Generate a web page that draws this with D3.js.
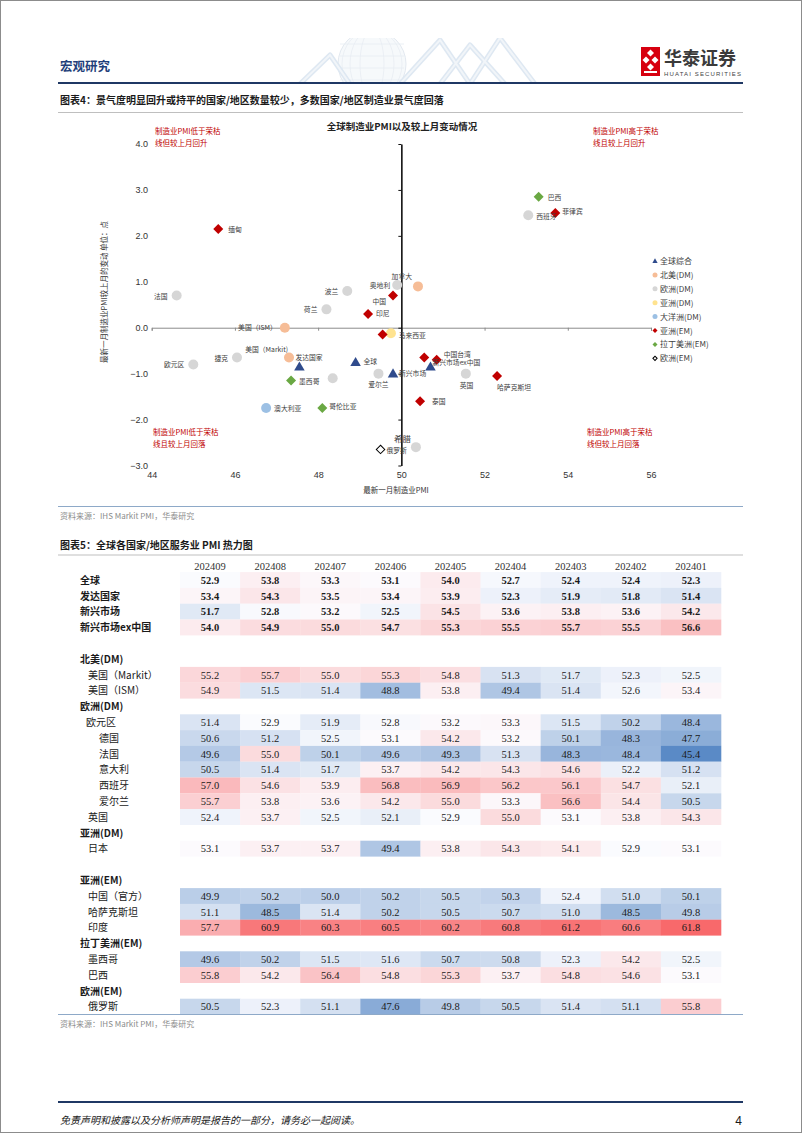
<!DOCTYPE html>
<html><head><meta charset="utf-8">
<script src="https://cdn.jsdelivr.net/npm/d3@7"></script>
<style>body{margin:0;background:#fff}svg{display:block}</style>
</head><body>
<svg id="page" width="802" height="1133"></svg>
<script>
// ===================== DATA =====================
// Scatter: global manufacturing PMI (latest month) and change vs previous month
const pointNames  = ["缅甸","法国","波兰","荷兰","中国","奥地利","加拿大","印尼","美国（ISM）","马来西亚","日本","美国（Markit)","发达国家","全球","欧元区","捷克","意大利","墨西哥","澳大利亚","哥伦比亚","爱尔兰","新兴市场","韩国","中国台湾","新兴市场ex中国","英国","哈萨克斯坦","泰国","俄罗斯","希腊","巴西","西班牙","菲律宾"];
const pointGroups = ["asiaEM","euDM","euDM","euDM","asiaEM","euDM","naDM","asiaEM","naDM","asiaEM","asiaDM","naDM","global","global","euDM","euDM","euDM","latEM","ocDM","latEM","euDM","global","asiaEM","asiaEM","global","euDM","asiaEM","asiaEM","euEM","euDM","latEM","euDM","asiaEM"];
const pointPMI    = [45.6,44.6,48.7,48.2,49.8,49.9,50.4,49.2,47.2,49.55,49.75,47.3,47.55,48.9,45.0,46.05,48.35,47.35,46.75,48.1,49.45,49.8,50.55,50.85,50.7,51.55,52.3,50.45,49.5,50.35,53.3,53.05,53.7];
const pointChange = [2.15,0.7,0.8,0.4,0.7,0.93,0.9,0.3,0.0,-0.15,-0.12,-0.65,-0.85,-0.75,-0.8,-0.65,-1.1,-1.15,-1.75,-1.75,-1.0,-1.0,-0.65,-0.7,-0.85,-1.0,-1.05,-1.6,-2.65,-2.6,2.85,2.45,2.5];
const legendKeys  = ["global","naDM","euDM","asiaDM","ocDM","asiaEM","latEM","euEM"];
const legendNames = ["全球综合","北美(DM)","欧洲(DM)","亚洲(DM)","大洋洲(DM)","亚洲(EM)","拉丁美洲(EM)","欧洲(EM)"];
const xTicks = [44,46,48,50,52,54,56];
const yTicks = [-3,-2,-1,0,1,2,3,4];

// Heatmap: services PMI
const months = ["202409","202408","202407","202406","202405","202404","202403","202402","202401"];
const svcGlobal      = [52.9,53.8,53.3,53.1,54.0,52.7,52.4,52.4,52.3];
const svcDeveloped   = [53.4,54.3,53.5,53.4,53.9,52.3,51.9,51.8,51.4];
const svcEmerging    = [51.7,52.8,53.2,52.5,54.5,53.6,53.8,53.6,54.2];
const svcEmergingXCN = [54.0,54.9,55.0,54.7,55.3,55.5,55.7,55.5,56.6];
const svcUSMarkit    = [55.2,55.7,55.0,55.3,54.8,51.3,51.7,52.3,52.5];
const svcUSISM       = [54.9,51.5,51.4,48.8,53.8,49.4,51.4,52.6,53.4];
const svcEurozone    = [51.4,52.9,51.9,52.8,53.2,53.3,51.5,50.2,48.4];
const svcGermany     = [50.6,51.2,52.5,53.1,54.2,53.2,50.1,48.3,47.7];
const svcFrance      = [49.6,55.0,50.1,49.6,49.3,51.3,48.3,48.4,45.4];
const svcItaly       = [50.5,51.4,51.7,53.7,54.2,54.3,54.6,52.2,51.2];
const svcSpain       = [57.0,54.6,53.9,56.8,56.9,56.2,56.1,54.7,52.1];
const svcIreland     = [55.7,53.8,53.6,54.2,55.0,53.3,56.6,54.4,50.5];
const svcUK          = [52.4,53.7,52.5,52.1,52.9,55.0,53.1,53.8,54.3];
const svcJapan       = [53.1,53.7,53.7,49.4,53.8,54.3,54.1,52.9,53.1];
const svcChina       = [49.9,50.2,50.0,50.2,50.5,50.3,52.4,51.0,50.1];
const svcKazakhstan  = [51.1,48.5,51.4,50.2,50.5,50.7,51.0,48.5,49.8];
const svcIndia       = [57.7,60.9,60.3,60.5,60.2,60.8,61.2,60.6,61.8];
const svcMexico      = [49.6,50.2,51.5,51.6,50.7,50.8,52.3,54.2,52.5];
const svcBrazil      = [55.8,54.2,56.4,54.8,55.3,53.7,54.8,54.6,53.1];
const svcRussia      = [50.5,52.3,51.1,47.6,49.8,50.5,51.4,51.1,55.8];

// ===================== STYLES =====================
const CJK = "'Noto Sans CJK SC','Noto Sans',sans-serif";
const SANS = "'Liberation Sans',Arial,sans-serif";
const SERIF = "'Liberation Serif','Times New Roman',serif";
const groupStyle = {
  global:{shape:"triangle", fill:"#2f4b8c", stroke:"none"},
  naDM:{shape:"circle", fill:"#f6bd97", stroke:"none"},
  euDM:{shape:"circle", fill:"#d6d6d6", stroke:"none"},
  asiaDM:{shape:"circle", fill:"#ffe38f", stroke:"none"},
  ocDM:{shape:"circle", fill:"#9cc0e4", stroke:"none"},
  asiaEM:{shape:"diamond", fill:"#c00000", stroke:"none"},
  latEM:{shape:"diamond", fill:"#6aa843", stroke:"none"},
  euEM:{shape:"diamond", fill:"#ffffff", stroke:"#000"}
};
// label placement (presentation only)
const labelPlace = {
  "缅甸":[10,3,"start"],"法国":[-9,3,"end"],"波兰":[-9,3,"end"],"荷兰":[-9,3,"end"],
  "中国":[-7,8,"end"],"奥地利":[-7,3,"end"],"加拿大":[-6,-7,"end"],"印尼":[8,2,"start"],
  "美国（ISM）":[-8,2,"end"],"马来西亚":[16,3,"start"],"日本":null,"美国（Markit)":[-1,-6,"end"],
  "发达国家":[-4,-7,"start"],"全球":[8,2,"start"],"欧元区":[-9,3,"end"],"捷克":[-9,3,"end"],
  "意大利":null,"墨西哥":[8,3,"start"],"澳大利亚":[8,3,"start"],"哥伦比亚":[7,1,"start"],
  "爱尔兰":[0,13,"middle"],"新兴市场":[6,2,"start"],"韩国":null,"中国台湾":[7,-3,"start"],
  "新兴市场ex中国":[2,-2,"start"],"英国":[-6,14,"start"],"哈萨克斯坦":[0,14,"start"],"泰国":[12,3,"start"],
  "俄罗斯":[6,4,"start"],"希腊":[-5,-5,"end"],"巴西":[9,3,"start"],"西班牙":[8,4,"start"],"菲律宾":[7,1,"start"]
};

const svg = d3.select("#page");
const defs = svg.append("defs");
defs.append("clipPath").attr("id","hdrclip").append("rect").attr("x",0).attr("y",38).attr("width",802).attr("height",44);

// ===================== PAGE HEADER =====================
const deco = svg.append("g").attr("clip-path","url(#hdrclip)").attr("opacity",0.38);
deco.append("circle").attr("cx",372).attr("cy",64).attr("r",34).attr("fill","#eaf0f6").attr("stroke","#b6c6d8").attr("stroke-width",1);
[12,22,30].forEach(rx=>deco.append("ellipse").attr("cx",372).attr("cy",64).attr("rx",rx).attr("ry",34).attr("fill","none").attr("stroke","#c3d1e0").attr("stroke-width",0.8));
[-20,-8,4,16].forEach(dy=>deco.append("line").attr("x1",340).attr("x2",404).attr("y1",64+dy).attr("y2",64+dy).attr("stroke","#c3d1e0").attr("stroke-width",0.8));
const mesh = [[[400,84],[440,40],[470,84]],[[440,84],[470,45],[505,84]],[[470,84],[500,38],[535,84]],[[300,84],[330,55],[350,84]]];
mesh.forEach(p=>deco.append("path").attr("d",d3.line()(p)).attr("fill","none").attr("stroke","#a9c3de").attr("stroke-width",5).attr("stroke-linejoin","round"));
mesh.forEach(p=>deco.append("path").attr("d",d3.line()(p)).attr("fill","none").attr("stroke","#dde7f1").attr("stroke-width",2));

svg.append("text").attr("x",60).attr("y",71).attr("font-family",CJK).attr("font-size",12.5).attr("font-weight","bold").attr("fill","#1f3f7a").text("宏观研究");
// logo
const logo = svg.append("g").attr("transform","translate(641,47)");
logo.append("rect").attr("width",19).attr("height",29).attr("fill","#d7000f");
[[9.5,6],[5,13],[14,13],[9.5,20]].forEach(([cx,cy])=>logo.append("path").attr("d",`M${cx},${cy-3.5}L${cx+3.5},${cy}L${cx},${cy+3.5}L${cx-3.5},${cy}Z`).attr("fill","#fff"));
logo.append("rect").attr("x",3).attr("y",24).attr("width",13).attr("height",2).attr("fill","#fff");
svg.append("text").attr("x",664).attr("y",65).attr("font-family",CJK).attr("font-size",18).attr("font-weight","bold").attr("fill","#3a3a3a").text("华泰证券");
svg.append("text").attr("x",664).attr("y",76).attr("font-family",SANS).attr("font-size",6).attr("fill","#444").attr("textLength",77).text("HUATAI SECURITIES");
svg.append("line").attr("x1",58).attr("x2",743).attr("y1",83).attr("y2",83).attr("stroke","#1f3864").attr("stroke-width",2.2);

// ===================== FIGURE 4 =====================
svg.append("text").attr("x",60).attr("y",104).attr("font-family",CJK).attr("font-size",10).attr("font-weight","bold").attr("fill","#1a1a1a")
  .text("图表4：景气度明显回升或持平的国家/地区数量较少，多数国家/地区制造业景气度回落");
svg.append("line").attr("x1",58).attr("x2",743).attr("y1",112.5).attr("y2",112.5).attr("stroke","#bfbfbf").attr("stroke-width",1);

const x = d3.scaleLinear().domain([44,56]).range([151.7,651]);
const y = d3.scaleLinear().domain([-3,4]).range([465.5,144]);
const chart = svg.append("g");

chart.append("text").attr("x",402).attr("y",130).attr("text-anchor","middle").attr("font-family",CJK).attr("font-size",9.5).attr("font-weight","bold").attr("fill","#222").text("全球制造业PMI以及较上月变动情况");

// horizontal axis at y=0
const gx0 = chart.append("g").attr("transform",`translate(0,${y(0)})`)
  .call(d3.axisBottom(x).tickValues(xTicks).tickSize(3).tickFormat(""));
gx0.select(".domain").attr("stroke","#8c8c8c");
gx0.selectAll(".tick line").attr("stroke","#8c8c8c");
// vertical axis at x=50
const gy0 = chart.append("g").attr("transform",`translate(${x(50)},0)`)
  .call(d3.axisLeft(y).tickValues(yTicks).tickSize(3).tickFormat("").tickSizeOuter(0));
gy0.select(".domain").attr("stroke","#111").attr("stroke-width",1.6);
gy0.selectAll(".tick line").attr("stroke","#111");
// tick labels
const gyl = chart.append("g").attr("transform","translate(150,0)")
  .call(d3.axisLeft(y).tickValues(yTicks).tickSize(0).tickPadding(2).tickFormat(d3.format(".1f")));
gyl.select(".domain").remove();
gyl.selectAll("text").attr("font-family",SANS).attr("font-size",9).attr("fill","#333");
const gxl = chart.append("g").attr("transform","translate(0,470)")
  .call(d3.axisBottom(x).tickValues(xTicks).tickSize(0).tickPadding(2).tickFormat(d3.format("d")));
gxl.select(".domain").remove();
gxl.selectAll("text").attr("font-family",SANS).attr("font-size",9).attr("fill","#333");

chart.append("text").attr("x",396).attr("y",493).attr("text-anchor","middle").attr("font-family",CJK).attr("font-size",7.5).attr("fill","#333").text("最新一月制造业PMI");
chart.append("text").attr("transform","translate(107,292) rotate(-90)").attr("text-anchor","middle").attr("font-family",CJK).attr("font-size",7.5).attr("fill","#333").text("最新一月制造业PMI较上月的变动    单位：点");

// quadrant notes
const notes = [[155,131,["制造业PMI低于荣枯线但较上月回升"]],[593,131,["制造业PMI高于荣枯线且较上月回升"]],[153,432,["制造业PMI低于荣枯线且较上月回落"]],[587,432,["制造业PMI高于荣枯线但较上月回落"]]];
notes.forEach(([nx,ny,[t]])=>{
  const tx = chart.append("text").attr("font-family",CJK).attr("font-size",7.5).attr("fill","#c00000");
  tx.append("tspan").attr("x",nx).attr("y",ny+3).text(t.slice(0,10));
  tx.append("tspan").attr("x",nx).attr("y",ny+15).text(t.slice(10));
});

function drawMarker(g, key, cx, cy, scale){
  const s = groupStyle[key];
  let path;
  if(s.shape==="triangle") path = g.append("path").attr("d",d3.symbol(d3.symbolTriangle, 48*scale*scale)()).attr("transform",`translate(${cx},${cy+0.8*scale})`);
  else if(s.shape==="circle") path = g.append("circle").attr("cx",cx).attr("cy",cy).attr("r",5*scale);
  else path = g.append("path").attr("d",d3.symbol(d3.symbolSquare, (s.stroke!=="none"?36:50)*scale*scale)()).attr("transform",`translate(${cx},${cy}) rotate(45)`);
  path.attr("fill",s.fill).attr("stroke",s.stroke).attr("stroke-width",s.stroke==="none"?0:1);
}

const pts = pointNames.map((n,i)=>({name:n, group:pointGroups[i], px:pointPMI[i], py:pointChange[i]}));
const order = ["euDM","naDM","asiaDM","ocDM","latEM","asiaEM","euEM","global"];
const ptG = chart.append("g");
const lbG = chart.append("g");
pts.slice().sort((a,b)=>order.indexOf(a.group)-order.indexOf(b.group)).forEach(p=>{
  drawMarker(ptG, p.group, x(p.px), y(p.py), 1);
});
pts.forEach(p=>{
  const lp = labelPlace[p.name];
  if(!lp) return;
  lbG.append("text").attr("x",x(p.px)+lp[0]).attr("y",y(p.py)+lp[1]).attr("text-anchor",lp[2])
    .attr("font-family",CJK).attr("font-size",p.name==="希腊"?8.5:6.8).attr("fill","#404040").text(p.name);
});

// legend
const lg = chart.append("g");
legendKeys.forEach((k,i)=>{
  const ly = 261 + i*13.9;
  drawMarker(lg, k, 655, ly, 0.5);
  lg.append("text").attr("x",660).attr("y",ly+3).attr("font-family",CJK).attr("font-size",8).attr("fill","#404040").text(legendNames[i]);
});

svg.append("line").attr("x1",58).attr("x2",743).attr("y1",506.5).attr("y2",506.5).attr("stroke","#8ea9c8").attr("stroke-width",1);
svg.append("text").attr("x",60).attr("y",519).attr("font-family",CJK).attr("font-size",8).attr("fill","#8c8c8c").text("资料来源：IHS Markit PMI，华泰研究");

// ===================== FIGURE 5 =====================
svg.append("text").attr("x",60).attr("y",549).attr("font-family",CJK).attr("font-size",10).attr("font-weight","bold").attr("fill","#1a1a1a").text("图表5：全球各国家/地区服务业 PMI 热力图");
svg.append("line").attr("x1",58).attr("x2",743).attr("y1",555).attr("y2",555).attr("stroke","#bfbfbf").attr("stroke-width",1);

const tableRows = [
  {label:"全球", kind:"top", values:svcGlobal},
  {label:"发达国家", kind:"top", values:svcDeveloped},
  {label:"新兴市场", kind:"top", values:svcEmerging},
  {label:"新兴市场ex中国", kind:"top", values:svcEmergingXCN},
  {label:"", kind:"blank"},
  {label:"北美(DM)", kind:"group"},
  {label:"美国（Markit）", kind:"sub", values:svcUSMarkit},
  {label:"美国（ISM）", kind:"sub", values:svcUSISM},
  {label:"欧洲(DM)", kind:"group"},
  {label:"欧元区", kind:"sub2", values:svcEurozone},
  {label:"德国", kind:"subsub", values:svcGermany},
  {label:"法国", kind:"subsub", values:svcFrance},
  {label:"意大利", kind:"subsub", values:svcItaly},
  {label:"西班牙", kind:"subsub", values:svcSpain},
  {label:"爱尔兰", kind:"subsub", values:svcIreland},
  {label:"英国", kind:"sub", values:svcUK},
  {label:"亚洲(DM)", kind:"group"},
  {label:"日本", kind:"sub", values:svcJapan},
  {label:"", kind:"blank"},
  {label:"亚洲(EM)", kind:"group"},
  {label:"中国（官方）", kind:"sub", values:svcChina},
  {label:"哈萨克斯坦", kind:"sub", values:svcKazakhstan},
  {label:"印度", kind:"sub", values:svcIndia},
  {label:"拉丁美洲(EM)", kind:"group"},
  {label:"墨西哥", kind:"sub", values:svcMexico},
  {label:"巴西", kind:"sub", values:svcBrazil},
  {label:"欧洲(EM)", kind:"group"},
  {label:"俄罗斯", kind:"sub", values:svcRussia}
];
const allVals = tableRows.filter(r=>r.values).flatMap(r=>r.values);
const vMin = d3.min(allVals), vMax = d3.max(allVals), vMid = d3.median(allVals);
const color = d3.scaleLinear().domain([vMin, vMid, vMax]).range(["#5a8ac6","#fcfcff","#f8696b"]).interpolate(d3.interpolateRgb);

const col = d3.scaleBand().domain(months).range([180,721]).padding(0);
const rowY = i => 580 + i*15.8;
const tbl = svg.append("g");
tbl.selectAll("text.mh").data(months).join("text").attr("class","mh")
  .attr("x",d=>col(d)+col.bandwidth()/2).attr("y",570).attr("text-anchor","middle")
  .attr("font-family",SERIF).attr("font-size",10.5).attr("fill","#333").text(d=>d);
const indent = {top:80, group:80, sub:88, sub2:86, subsub:99, blank:80};
tableRows.forEach((r,i)=>{
  const cy = rowY(i);
  if(r.label) tbl.append("text").attr("x",indent[r.kind]).attr("y",cy+3.8)
    .attr("font-family",CJK).attr("font-size",10).attr("font-weight",(r.kind==="top"||r.kind==="group")?"bold":"normal")
    .attr("fill","#1a1a1a").text(r.label);
  if(!r.values) return;
  const rg = tbl.append("g");
  rg.selectAll("rect").data(r.values).join("rect")
    .attr("x",(d,j)=>col(months[j])).attr("y",cy-7.9).attr("width",col.bandwidth()+0.3).attr("height",15.9)
    .attr("fill",d=>color(d));
  rg.selectAll("text").data(r.values).join("text")
    .attr("x",(d,j)=>col(months[j])+col.bandwidth()/2).attr("y",cy+3.7).attr("text-anchor","middle")
    .attr("font-family",SERIF).attr("font-size",10.5).attr("font-weight",r.kind==="top"?"bold":"normal")
    .attr("fill","#1a1a1a").text(d=>d3.format(".1f")(d));
});

svg.append("line").attr("x1",58).attr("x2",743).attr("y1",1014.5).attr("y2",1014.5).attr("stroke","#8ea9c8").attr("stroke-width",1);
svg.append("text").attr("x",60).attr("y",1027).attr("font-family",CJK).attr("font-size",8).attr("fill","#8c8c8c").text("资料来源：IHS Markit PMI，华泰研究");

// ===================== FOOTER =====================
svg.append("line").attr("x1",58).attr("x2",743).attr("y1",1102).attr("y2",1102).attr("stroke","#1f3864").attr("stroke-width",2.2);
svg.append("text").attr("x",60).attr("y",1124).attr("font-family",CJK).attr("font-size",10).attr("font-style","italic").attr("fill","#1a1a1a")
  .text("免责声明和披露以及分析师声明是报告的一部分，请务必一起阅读。");
svg.append("text").attr("x",742).attr("y",1125).attr("text-anchor","end").attr("font-family",SANS).attr("font-size",12).attr("fill","#1a1a1a").text("4");
svg.append("rect").attr("x",0.5).attr("y",0.5).attr("width",801).attr("height",1132).attr("fill","none").attr("stroke","#8c8c8c").attr("stroke-width",1);
</script>
</body></html>
